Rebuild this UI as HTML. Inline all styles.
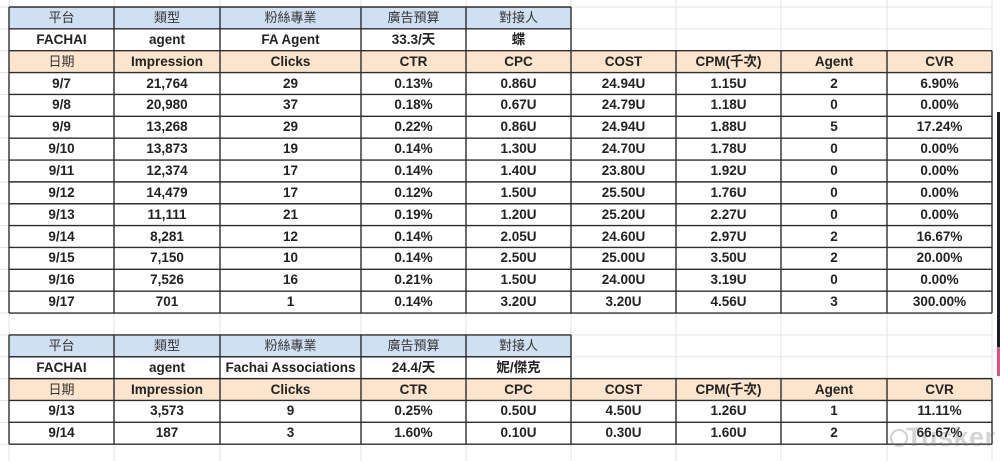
<!DOCTYPE html>
<html><head><meta charset="utf-8">
<style>
html,body{margin:0;padding:0;background:#fff;}
body{width:1000px;height:461px;position:relative;overflow:hidden;font-family:"Liberation Sans","Noto Sans CJK TC",sans-serif;}
.g{position:absolute;left:9px;display:grid;grid-template-columns:105px 106px 141px 105px 105px 105px 105px 106px 105px;grid-auto-rows:21.86px;}
.g div{text-align:center;line-height:22px;font-size:13.5px;font-weight:bold;color:#222;white-space:nowrap;overflow:visible;}
.g div.b{background:#cfe0f3;font-weight:normal;color:#333;font-size:13px;}
.g div.o{background:#fce4cd;}
.g div.n{font-weight:normal;font-size:13px;color:#333;}
.g div.e{grid-column:span 4;}
svg{position:absolute;left:0;top:0;}
</style></head><body>
<svg width="1000" height="461">
<g stroke="#e3e3e3" stroke-width="1" fill="none">
<path d="M9 0V461M114 0V461M220 0V461M361 0V461M466 0V461M571 0V461M676 0V461M781 0V461M887 0V461M992 0V461"/>
<path d="M0 7H992M0 28.86H992M0 50.72H992M0 72.58H992M0 94.44H992M0 116.3H992M0 138.16H992M0 160.02H992M0 181.88H992M0 203.74H992M0 225.6H992M0 247.46H992M0 269.32H992M0 291.18H992M0 313.04H992M0 334.9H992M0 356.76H992M0 378.62H992M0 400.48H992M0 422.34H992M0 444.2H992"/>
</g>
</svg>
<div class="g" style="top:7px;">
<div class="b">平台</div><div class="b">類型</div><div class="b">粉絲專業</div><div class="b">廣告預算</div><div class="b">對接人</div><div class="e"></div>
<div>FACHAI</div><div>agent</div><div>FA Agent</div><div>33.3/天</div><div>蝶</div><div class="e"></div>
<div class="o n">日期</div><div class="o">Impression</div><div class="o">Clicks</div><div class="o">CTR</div><div class="o">CPC</div><div class="o">COST</div><div class="o">CPM(千次)</div><div class="o">Agent</div><div class="o">CVR</div>
<div>9/7</div><div>21,764</div><div>29</div><div>0.13%</div><div>0.86U</div><div>24.94U</div><div>1.15U</div><div>2</div><div>6.90%</div>
<div>9/8</div><div>20,980</div><div>37</div><div>0.18%</div><div>0.67U</div><div>24.79U</div><div>1.18U</div><div>0</div><div>0.00%</div>
<div>9/9</div><div>13,268</div><div>29</div><div>0.22%</div><div>0.86U</div><div>24.94U</div><div>1.88U</div><div>5</div><div>17.24%</div>
<div>9/10</div><div>13,873</div><div>19</div><div>0.14%</div><div>1.30U</div><div>24.70U</div><div>1.78U</div><div>0</div><div>0.00%</div>
<div>9/11</div><div>12,374</div><div>17</div><div>0.14%</div><div>1.40U</div><div>23.80U</div><div>1.92U</div><div>0</div><div>0.00%</div>
<div>9/12</div><div>14,479</div><div>17</div><div>0.12%</div><div>1.50U</div><div>25.50U</div><div>1.76U</div><div>0</div><div>0.00%</div>
<div>9/13</div><div>11,111</div><div>21</div><div>0.19%</div><div>1.20U</div><div>25.20U</div><div>2.27U</div><div>0</div><div>0.00%</div>
<div>9/14</div><div>8,281</div><div>12</div><div>0.14%</div><div>2.05U</div><div>24.60U</div><div>2.97U</div><div>2</div><div>16.67%</div>
<div>9/15</div><div>7,150</div><div>10</div><div>0.14%</div><div>2.50U</div><div>25.00U</div><div>3.50U</div><div>2</div><div>20.00%</div>
<div>9/16</div><div>7,526</div><div>16</div><div>0.21%</div><div>1.50U</div><div>24.00U</div><div>3.19U</div><div>0</div><div>0.00%</div>
<div>9/17</div><div>701</div><div>1</div><div>0.14%</div><div>3.20U</div><div>3.20U</div><div>4.56U</div><div>3</div><div>300.00%</div>
</div>
<div class="g" style="top:334.9px;">
<div class="b">平台</div><div class="b">類型</div><div class="b">粉絲專業</div><div class="b">廣告預算</div><div class="b">對接人</div><div class="e"></div>
<div>FACHAI</div><div>agent</div><div>Fachai Associations</div><div>24.4/天</div><div>妮/傑克</div><div class="e"></div>
<div class="o n">日期</div><div class="o">Impression</div><div class="o">Clicks</div><div class="o">CTR</div><div class="o">CPC</div><div class="o">COST</div><div class="o">CPM(千次)</div><div class="o">Agent</div><div class="o">CVR</div>
<div>9/13</div><div>3,573</div><div>9</div><div>0.25%</div><div>0.50U</div><div>4.50U</div><div>1.26U</div><div>1</div><div>11.11%</div>
<div>9/14</div><div>187</div><div>3</div><div>1.60%</div><div>0.10U</div><div>0.30U</div><div>1.60U</div><div>2</div><div>66.67%</div>
</div>
<svg width="1000" height="461">
<g stroke="#2e2e2e" stroke-width="1.4" fill="none">
<path d="M9 7H571M9 28.86H571"/>
<path d="M9 50.72H992M9 72.58H992M9 94.44H992M9 116.3H992M9 138.16H992M9 160.02H992M9 181.88H992M9 203.74H992M9 225.6H992M9 247.46H992M9 269.32H992M9 291.18H992M9 313.04H992"/>
<path d="M9 7V313.04M114 7V313.04M220 7V313.04M361 7V313.04M466 7V313.04M571 7V313.04"/>
<path d="M676 50.72V313.04M781 50.72V313.04M887 50.72V313.04M992 50.72V313.04"/>
<path d="M9 334.9H571M9 356.76H571"/>
<path d="M9 378.62H992M9 400.48H992M9 422.34H992M9 444.2H992"/>
<path d="M9 334.9V444.2M114 334.9V444.2M220 334.9V444.2M361 334.9V444.2M466 334.9V444.2M571 334.9V444.2"/>
<path d="M676 378.62V444.2M781 378.62V444.2M887 378.62V444.2M992 378.62V444.2"/>
</g>
</svg>
<div style="position:absolute;left:997px;top:112px;width:3px;height:235px;background:#1c1c28;"></div>
<div style="position:absolute;left:997px;top:347px;width:3px;height:29px;background:#e4507f;"></div>
<div style="position:absolute;left:890px;top:429px;width:14px;height:14px;border:2px solid rgba(120,120,120,0.35);border-radius:50%;"></div>
<div style="position:absolute;left:906px;top:422px;font-family:'Liberation Sans',sans-serif;font-weight:bold;font-size:27px;color:rgba(120,120,120,0.32);letter-spacing:0.5px;">Tusker</div>
</body></html>
